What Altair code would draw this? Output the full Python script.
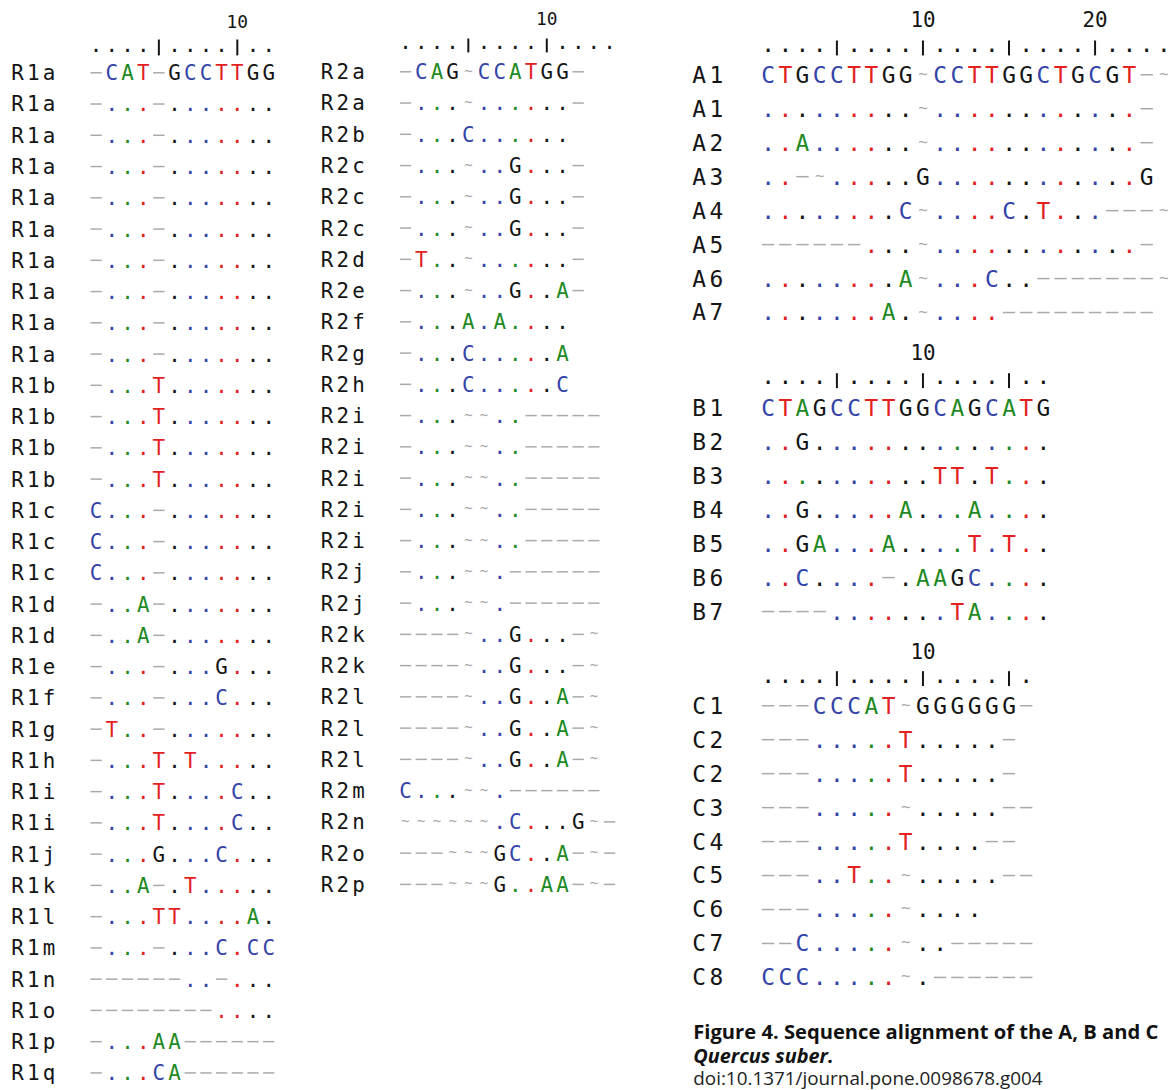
import altair as alt
import pandas as pd

# ---------------- data ----------------
R1_labels = (["R1a"] * 10 + ["R1b"] * 4 + ["R1c"] * 3 + ["R1d"] * 2 +
             ["R1e", "R1f", "R1g", "R1h", "R1i", "R1i", "R1j", "R1k", "R1l",
              "R1m", "R1n", "R1o", "R1p", "R1q"])
R1_seqs = (["-CAT-GCCTTGG"] + ["-...-......."] * 9 + ["-...T......."] * 4 +
           ["C...-......."] * 3 + ["-..A-......."] * 2 +
           ["-...-...G...", "-...-...C...", "-T..-.......", "-...T.T.....",
            "-...T....C..", "-...T....C..", "-...G...C...", "-..A-.T.....",
            "-...TT....A.", "-...-...C.CC", "------..-...", "--------....",
            "-...AA------", "-...CA------"])

R2_labels = (["R2a", "R2a", "R2b", "R2c", "R2c", "R2c", "R2d", "R2e", "R2f", "R2g", "R2h"] +
             ["R2i"] * 5 + ["R2j"] * 2 + ["R2k"] * 2 + ["R2l"] * 3 +
             ["R2m", "R2n", "R2o", "R2p"])
R2_seqs = (["-CAG~CCATGG-", "-...~......-", "-...C......"] + ["-...~..G...-"] * 3 +
           ["-T..~......-", "-...~..G..A-", "-...A.A....", "-...C.....A", "-...C.....C"] +
           ["-...~~..-----"] * 5 + ["-...~~.------"] * 2 + ["----~..G...-~"] * 2 +
           ["----~..G..A-~"] * 3 +
           ["C...~~.------", "~~~~~~.C...G~-", "---~~~GC..A-~-", "---~~~G..AA-~-"])

A_labels = ["A1", "A1", "A2", "A3", "A4", "A5", "A6", "A7"]
A_seqs = ["CTGCCTTGG~CCTTGGCTGCGT-~",
          ".........~............-",
          "..A......~............-",
          "..-~.....G............G",
          "........C~....C.T...---~",
          "------...~............-",
          "........A~...C..-------~",
          ".......A.~....---------"]

B_labels = ["B1", "B2", "B3", "B4", "B5", "B6", "B7"]
B_seqs = ["CTAGCCTTGGCAGCATG",
          "..G..............",
          "..........TT.T...",
          "..G.....A...A....",
          "..GA...A....T.T..",
          "..C....-.AAGC....",
          "----.......TA...."]

C_labels = ["C1", "C2", "C2", "C3", "C4", "C5", "C6", "C7", "C8"]
C_seqs = ["---CCCAT~GGGGGG-",
          "---.....T.....-",
          "---.....T.....-",
          "---.....~.....--",
          "---.....T....--",
          "---..T..~.....--",
          "---.....~....",
          "--C.....~..-----",
          "CCC.....~.------"]

ruler_lengths = {"R1": 12, "R2": 14, "A": 24, "B": 17, "C": 16}

caption_lines = ["Figure 4. Sequence alignment of the A, B and C",
                 "Quercus suber.",
                 "doi:10.1371/journal.pone.0098678.g004"]

# ---------------- layout / style ----------------
BASE_COLORS = {"A": "#1f8a24", "C": "#3343a8", "T": "#e3211f", "G": "#141414"}
GAP_COLOR = "#a9a9a9"
INK = "#141414"
SEQ_FONT = "DejaVu Sans Mono"

left = dict(dx=15.8, dy=31.47, fs=21, lfs=21, tfs=14, nfs=18, gap_up=7.5, tilde_up=7.5, lab0=-4)
right = dict(dx=17.33, dy=34.2, fs=23, lfs=23, tfs=16, nfs=21, gap_up=8.0, tilde_up=9.0, lab0=-3)

blocks = [
    dict(name="R1", labels=R1_labels, seqs=R1_seqs, x1=96.7, yb1=77.0,
         ruler_base=48.3, tick=(36, 52), num_y=19.5, **left),
    dict(name="R2", labels=R2_labels, seqs=R2_seqs, x1=408.3, yb1=76.0,
         ruler_base=45.5, tick=(35, 49), num_y=16.5, **left),
    dict(name="A", labels=A_labels, seqs=A_seqs, x1=773.3, yb1=79.5,
         ruler_base=48.5, tick=(37, 52), num_y=17.5, **right),
    dict(name="B", labels=B_labels, seqs=B_seqs, x1=773.3, yb1=414.8,
         ruler_base=383.3, tick=(372, 387), num_y=353.0, **right),
    dict(name="C", labels=C_labels, seqs=C_seqs, x1=773.3, yb1=714.8,
         ruler_base=684.3, tick=(672, 687), num_y=653.5, **right),
]

chars, gaps, tildes, ticks, nums = [], [], [], [], []
for b in blocks:
    ref = b["seqs"][0]
    dx = b["dx"]
    for r, (lab, seq) in enumerate(zip(b["labels"], b["seqs"])):
        yb = b["yb1"] + r * b["dy"]
        for i, ch in enumerate(lab):
            chars.append(dict(x=b["x1"] + (b["lab0"] + i - 1) * dx, y=yb, t=ch, c=INK, fs=b["lfs"]))
        for j, ch in enumerate(seq):
            x = b["x1"] + j * dx
            if ch == "-":
                gaps.append(dict(x=x - 0.36 * dx, x2=x + 0.36 * dx, y=yb - b["gap_up"]))
            elif ch == "~":
                tildes.append(dict(x=x, y=yb - b["tilde_up"], fs=b["tfs"]))
            elif ch == ".":
                chars.append(dict(x=x, y=yb, t=".", c=BASE_COLORS.get(ref[j], INK), fs=b["fs"]))
            else:
                chars.append(dict(x=x, y=yb, t=ch, c=BASE_COLORS[ch], fs=b["fs"]))
    for j in range(ruler_lengths[b["name"]]):
        pos = j + 1
        x = b["x1"] + j * dx
        if pos % 5 == 0:
            ticks.append(dict(x=x, y=b["tick"][0], y2=b["tick"][1]))
        else:
            chars.append(dict(x=x, y=b["ruler_base"], t=".", c=INK, fs=b["fs"]))
        if pos % 10 == 0:
            nums.append(dict(x=x, y=b["num_y"], t=str(pos), fs=b["nfs"]))

cap_x = 698
cap_rows = [dict(x=cap_x, y=1042, t=caption_lines[0]),
            dict(x=cap_x, y=1067, t=caption_lines[1]),
            dict(x=cap_x, y=1089, t=caption_lines[2])]

df_chars = pd.DataFrame(chars)
df_gaps = pd.DataFrame(gaps)
df_tildes = pd.DataFrame(tildes)
df_ticks = pd.DataFrame(ticks)
df_nums = pd.DataFrame(nums)

XS = alt.Scale(domain=[8, 1176], nice=False, zero=False)
YS = alt.Scale(domain=[8, 1090], nice=False, zero=False, reverse=True)


def X(f="x"):
    return alt.X(f"{f}:Q", scale=XS, axis=None)


def Y(f="y"):
    return alt.Y(f"{f}:Q", scale=YS, axis=None)


text_layer = alt.Chart(df_chars).mark_text(
    font=SEQ_FONT, align="center", baseline="alphabetic"
).encode(x=X(), y=Y(), text="t:N",
         color=alt.Color("c:N", scale=None), size=alt.Size("fs:Q", scale=None))

gap_layer = alt.Chart(df_gaps).mark_rule(strokeWidth=1.5, color=GAP_COLOR).encode(
    x=X(), x2=alt.X2("x2:Q"), y=Y())

tilde_layer = alt.Chart(df_tildes).mark_text(
    font=SEQ_FONT, align="center", baseline="middle", color=GAP_COLOR
).encode(x=X(), y=Y(), text=alt.value("~"), size=alt.Size("fs:Q", scale=None))

tick_layer = alt.Chart(df_ticks).mark_rule(strokeWidth=2, color=INK).encode(
    x=X(), y=Y(), y2=alt.Y2("y2:Q"))

num_layer = alt.Chart(df_nums).mark_text(
    font=SEQ_FONT, align="center", baseline="middle", color=INK
).encode(x=X(), y=Y(), text="t:N", size=alt.Size("fs:Q", scale=None))

cap1 = alt.Chart(pd.DataFrame([cap_rows[0]])).mark_text(
    font="Open Sans", fontWeight="bold", fontSize=20.3, align="left", baseline="alphabetic", color="#111111"
).encode(x=X(), y=Y(), text="t:N")
cap2 = alt.Chart(pd.DataFrame([cap_rows[1]])).mark_text(
    font="Open Sans", fontWeight="bold", fontStyle="italic", fontSize=20, align="left",
    baseline="alphabetic", color="#111111"
).encode(x=X(), y=Y(), text="t:N")
cap3 = alt.Chart(pd.DataFrame([cap_rows[2]])).mark_text(
    font="Open Sans", fontSize=19, align="left", baseline="alphabetic", color="#222222"
).encode(x=X(), y=Y(), text="t:N")

chart = alt.layer(
    gap_layer, tilde_layer, tick_layer, text_layer, num_layer, cap1, cap2, cap3
).properties(
    width=1168, height=1082,
    autosize=alt.AutoSizeParams(type="none"),
    padding=0,
).configure_view(stroke=None)

chart.save("out.html", embed_options={"renderer": "svg", "actions": False})
